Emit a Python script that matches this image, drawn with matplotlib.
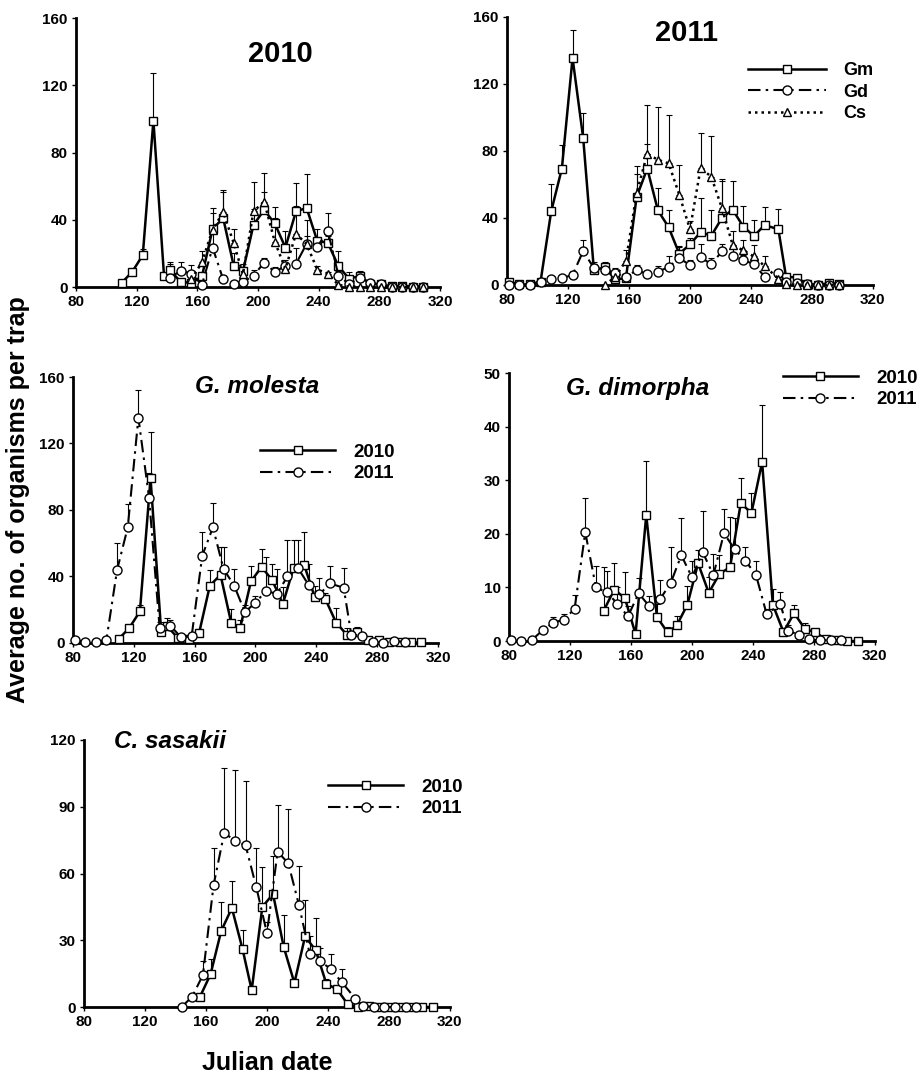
import matplotlib.pyplot as plt
import numpy as np

plt.rcParams['font.family'] = ['Liberation Sans', 'DejaVu Sans']
plt.rcParams['font.weight'] = 'bold'

# sampling dates (Julian day)
day_2010 = [110, 117, 124, 131, 138, 142, 149, 156, 163, 170, 177, 184, 190, 197, 204,
            211, 218, 225, 232, 239, 246, 253, 260, 267, 274, 281, 288, 295, 302, 309]
day_2011 = [81, 88, 95, 102, 109, 116, 123, 130, 137, 144, 151, 158, 165, 172, 179, 186,
            193, 200, 207, 214, 221, 228, 235, 242, 249, 258, 263, 270, 277, 284, 291, 298]

# G. molesta (Gm)
gm_2010 = [2.4, 9, 19, 99, 6.6, 10, 3, 2.5, 6.3, 34.5, 41, 12.3, 9.3, 37, 45.8,
           37.8, 23.5, 45, 47, 27.5, 26.3, 12.3, 5, 6.5, 2, 1.5, 0.4, 0.8, 0.3, 0.3]
gm_2010_se = [1, 2, 3.9, 28, 2, 5, 2, 1, 2, 9.5, 16.5, 8, 4.5, 9.5, 10.7,
              9.7, 10, 17, 20, 7, 4, 9, 4, 3, 1, 0.5, 0.3, 0.3, 0.2, 0.2]
gm_2011 = [2, 0.4, 0.3, 2, 44, 69.5, 135.5, 87.5, 8.8, 10.5, 3.4, 4, 52.5, 69.5, 44.5, 34.5,
           18.6, 24.2, 31.5, 29.4, 40, 45, 34.8, 29.2, 35.8, 33.2, 5, 4.4, 0.5, 0.2, 1, 0.8]
gm_2011_se = [0.5, 0.2, 0.2, 0.5, 16, 14, 16.5, 15, 4, 3.5, 1, 2, 14, 14.5, 13.3, 10,
              4, 4, 20.5, 15.2, 22, 17, 12.6, 9.6, 10.7, 12.1, 1.5, 1, 0.3, 0.2, 0.3, 0.3]

# G. dimorpha (Gd), 2010 trapping from day 142
gd_day_2010 = day_2010[5:]
gd_2010 = [5.6, 9.6, 8, 1.3, 23.5, 4.5, 1.6, 2.9, 6.8, 14.5, 9, 12.5, 13.8,
           25.7, 23.9, 33.4, 6.8, 1.7, 5.2, 2.3, 1.6, 0.3, 0.1, 0, 0]
gd_2010_se = [8.2, 5, 4.8, 0.5, 10, 2.5, 1, 1.8, 3.5, 2.5, 3, 3.6, 9.3,
              4.7, 3.8, 10.6, 2.9, 0.5, 1.5, 1, 0.5, 0.3, 0.2, 0, 0]
gd_2011 = [0.1, 0, 0.2, 2, 3.4, 4, 6, 20.3, 10, 9.1, 7, 4.6, 8.9, 6.5, 7.8, 10.8,
           16, 11.9, 16.6, 12.3, 20.1, 17.1, 15, 12.3, 5, 6.9, 1.9, 1.2, 0.3, 0.1, 0.2, 0.1]
gd_2011_se = [0, 0, 0, 0.5, 1, 1, 2.6, 6.3, 4, 4, 3, 2, 2.8, 1.9, 3.6, 6.7,
              7, 3.1, 7.6, 4, 4.5, 5.9, 2.6, 2.7, 1, 2.3, 1, 0.5, 0.2, 0.1, 0.1, 0]

# C. sasakii (Cs), 2010 from day 156, 2011 from day 144
cs_day_2010 = day_2010[7:]
cs_2010 = [4.5, 14.7, 34.2, 44.5, 26, 7.6, 45, 50.8, 27, 10.8, 31.7, 25.5,
           10.4, 8, 1.2, 0.2, 0.3, 0, 0, 0, 0, 0, 0]
cs_2010_se = [0.5, 7, 13, 12.2, 8.8, 2, 17.7, 17, 14.3, 1.5, 16.3, 14.3,
              2, 1, 0.5, 0.2, 0.2, 0, 0, 0, 0, 0, 0]
cs_day_2011 = day_2011[9:]
cs_2011 = [0, 4.7, 14.4, 54.8, 78.3, 74.7, 72.6, 53.9, 33.2, 69.8, 64.6, 45.8,
           24, 20.6, 17, 11.2, 3.8, 0.3, 0.2, 0, 0, 0, 0]
cs_2011_se = [0, 1, 6.3, 16.5, 29.2, 31.8, 29, 17.6, 5, 20.9, 24.6, 17.5,
              8, 6, 7, 6.1, 1, 0.2, 0, 0, 0, 0, 0]

xticks = [80, 120, 160, 200, 240, 280, 320]

SOLID = '-'
DASHDOT = (0, (6, 2.5, 1.2, 2.5))
DOTTED = (0, (1, 1.6))


def series(ax, x, y, se, marker, ls, lw, label=None):
    se = np.asarray(se)
    ax.errorbar(x, y, yerr=[np.zeros(len(se)), se], fmt='none', ecolor='black',
                elinewidth=0.8, capsize=2.5, capthick=0.8, zorder=2, clip_on=False)
    ms = 6.5 if marker == 'o' else 6
    ax.plot(x, y, linestyle=ls, color='black', lw=lw, marker=marker, ms=ms,
            mfc='white', mec='black', mew=1, label=label, zorder=3, clip_on=False)


def style(ax, ymax, ystep):
    ax.set_xlim(80, 320)
    ax.set_ylim(0, ymax)
    ax.set_xticks(xticks)
    ax.set_yticks(np.arange(0, ymax + 1, ystep))
    for s in ['top', 'right']:
        ax.spines[s].set_visible(False)
    for s in ['left', 'bottom']:
        ax.spines[s].set_linewidth(2)
    ax.tick_params(direction='out', length=3, width=1, pad=3, labelsize=11)


def legend(ax, fx, fy, size, hl):
    ax.legend(loc='upper left', bbox_to_anchor=(fx, fy), bbox_transform=fig.transFigure,
              frameon=False, borderpad=0, borderaxespad=0, handlelength=hl,
              handletextpad=1.0, labelspacing=0.25, numpoints=1,
              prop={'size': size, 'weight': 'bold'})


fig = plt.figure(figsize=(9.24, 10.79), dpi=100)

# 2010, all three species
ax1 = fig.add_axes([0.0823, 0.734, 0.394, 0.2493])
series(ax1, day_2010, gm_2010, gm_2010_se, 's', SOLID, 1.8)
series(ax1, gd_day_2010, gd_2010, gd_2010_se, 'o', DASHDOT, 1.5)
series(ax1, cs_day_2010, cs_2010, cs_2010_se, '^', DOTTED, 1.8)
style(ax1, 160, 40)
ax1.text(0.56, 0.866, '2010', transform=ax1.transAxes, ha='center', va='center',
         fontsize=21, fontweight='bold')

# 2011, all three species
ax2 = fig.add_axes([0.5487, 0.7359, 0.396, 0.2484])
series(ax2, day_2011, gm_2011, gm_2011_se, 's', SOLID, 1.8, 'Gm')
series(ax2, day_2011, gd_2011, gd_2011_se, 'o', DASHDOT, 1.5, 'Gd')
series(ax2, cs_day_2011, cs_2011, cs_2011_se, '^', DOTTED, 1.8, 'Cs')
style(ax2, 160, 40)
ax2.text(0.49, 0.94, '2011', transform=ax2.transAxes, ha='center', va='center',
         fontsize=21, fontweight='bold')
legend(ax2, 0.8095, 0.9425, 13, 4.3)

# G. molesta, both years
ax3 = fig.add_axes([0.079, 0.4041, 0.395, 0.2465])
series(ax3, day_2010, gm_2010, gm_2010_se, 's', SOLID, 1.8, '2010')
series(ax3, day_2011, gm_2011, gm_2011_se, 'o', DASHDOT, 1.5, '2011')
style(ax3, 160, 40)
ax3.text(0.504, 0.966, 'G. molesta', transform=ax3.transAxes, ha='center',
         va='center', fontsize=17.5, fontweight='bold', style='italic')
legend(ax3, 0.2814, 0.589, 13.5, 4.0)

# G. dimorpha, both years
ax4 = fig.add_axes([0.5509, 0.4059, 0.396, 0.2484])
series(ax4, gd_day_2010, gd_2010, gd_2010_se, 's', SOLID, 1.8, '2010')
series(ax4, day_2011, gd_2011, gd_2011_se, 'o', DASHDOT, 1.5, '2011')
style(ax4, 50, 10)
ax4.text(0.352, 0.944, 'G. dimorpha', transform=ax4.transAxes, ha='center',
         va='center', fontsize=17.5, fontweight='bold', style='italic')
legend(ax4, 0.8474, 0.6576, 13.5, 4.0)

# C. sasakii, both years
ax5 = fig.add_axes([0.0909, 0.0667, 0.396, 0.2475])
series(ax5, cs_day_2010, cs_2010, cs_2010_se, 's', SOLID, 1.8, '2010')
series(ax5, cs_day_2011, cs_2011, cs_2011_se, 'o', DASHDOT, 1.5, '2011')
style(ax5, 120, 30)
ax5.text(0.235, 0.993, 'C. sasakii', transform=ax5.transAxes, ha='center',
         va='center', fontsize=17.5, fontweight='bold', style='italic')
legend(ax5, 0.355, 0.2785, 13.5, 4.0)

fig.text(0.019, 0.537, 'Average no. of organisms per trap', rotation=90,
         ha='center', va='center', fontsize=18, fontweight='bold')
fig.text(0.289, 0.015, 'Julian date', ha='center', va='center',
         fontsize=18, fontweight='bold')

fig.savefig('out.png', dpi=100)
